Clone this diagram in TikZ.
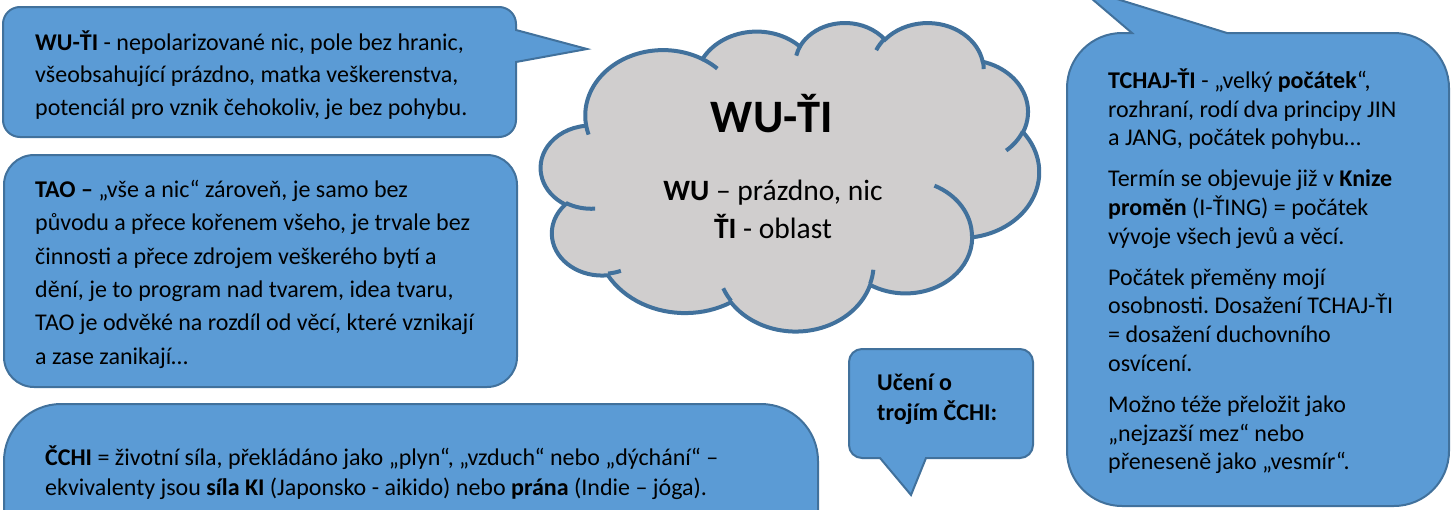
\documentclass[tikz,border=0pt]{standalone}
\usepackage{fontspec}
\setmainfont{Carlito}
\frenchspacing

\definecolor{bubblefill}{HTML}{5B9BD5}
\definecolor{bubbleline}{HTML}{41719C}
\definecolor{cloudfill}{HTML}{D0CECE}

\tikzstyle{bubble} = [draw=bubbleline, fill=bubblefill, line width=2pt]
\tikzstyle{cloudline} = [draw=bubbleline, line width=4pt]
\tikzstyle{textnode} = [anchor=north west, align=left, inner sep=0pt, font=\fontsize{24}{32.5}\selectfont]
\tikzstyle{taotext} = [textnode, font=\fontsize{24}{33.4}\selectfont]
\tikzstyle{chitext} = [textnode, font=\fontsize{24}{30}\selectfont]
\tikzstyle{tchajtext} = [textnode, font=\fontsize{24}{28.8}\selectfont]
\tikzstyle{cloudtext} = [anchor=base, inner sep=0pt, font=\fontsize{29.5}{38}\selectfont]

\newcommand{\firstline}{\rule{0pt}{24pt}}
\tikzset{
    lobe/.style args={#1/#2/#3/#4}{x radius=#1*1.1528pt, y radius=#2*0.7130pt,
        start angle={-atan2(sin(#3)/#2, cos(#3)/#1)},
        delta angle={-mod(atan2(sin(#3+#4)/#2, cos(#3+#4)/#1) - atan2(sin(#3)/#2, cos(#3)/#1) + 720, 360)}}
}

\begin{document}
\begin{tikzpicture}[x=1pt, y=-1pt]

    \useasboundingbox (0, 0) rectangle (1451, 509);
    \clip (0, 0) rectangle (1451, 509);

    \draw [bubble] (3, 60) [rounded corners=17pt] -- (3, 7) -- (516, 7) [sharp corners] -- (516, 30) -- (587, 49) -- (516, 62) [rounded corners=17pt] -- (516, 137) -- (3, 137) -- cycle;
    \draw [bubble, rounded corners=30pt] (4, 155) rectangle (517, 387);
    \draw [bubble, rounded corners=57pt] (4, 404) rectangle (818, 600);
    \draw [bubble] (849, 400) [rounded corners=13pt] -- (849, 349) -- (1033, 349) -- (1033, 458) [sharp corners] -- (926, 458) -- (911, 495) -- (880, 458) [rounded corners=13pt] -- (849, 458) -- cycle;
    \draw [bubble] (1067, 300) [rounded corners=55pt] -- (1067, 33) [sharp corners] -- (1132, 33) -- (1078, -13) -- (1227, 33) [rounded corners=55pt] -- (1449, 33) -- (1449, 506) -- (1067, 506) -- cycle;

    \begin{scope}[shift={(541, 22)}, x=1.1528pt, y=-0.7130pt]
        \draw [cloudline, fill=cloudfill] (39, 143.7)
            \foreach \lobe in {67.53/91.90/-190.4875/123.7805, 53.33/72.67/-144.1024/89.9452,
                43.65/59.45/-145.8079/99.7230, 48.57/65.95/-130.9861/117.2417,
                53.33/72.73/-78.7089/109.0269, 67.75/92.20/-46.2673/130.2690,
                57.85/78.67/0.6250/114.0333, 67.52/92.15/22.4516/115.1726,
                77.20/105.43/66.2426/75.7110, 43.60/59.18/-274.9421/146.7356,
                43.45/59.45/-246.8285/152.5189}
            { arc [lobe/.expanded=\lobe] }
            -- cycle;
        \draw [cloudline]
            \foreach \px/\py/\lobe in {46.93/261.77/{43.45/59.45/86.742/26.4295},
                69.28/348.99/{43.60/59.18/73.6105/11.4475}, 164.78/390.90/{67.52/92.15/137.6242/14.0811},
                288.27/347.51/{67.52/92.15/6.4533/15.9984}, 341.29/229.54/{57.85/78.67/-70.2924/70.9174},
                417.98/153.54/{53.33/72.73/30.3180/27.7515}, 383.24/54.26/{48.57/65.95/-13.7443/14.8589},
                290.78/39.52/{48.57/65.95/-149.1815/18.1954}, 221.41/47.20/{43.65/59.45/-163.4943/17.6864},
                140.00/51.92/{67.53/91.90/-66.7070/12.3194}, 41.27/157.89/{67.53/91.90/157.6544/11.8582}}
            { (\px, \py) arc [lobe/.expanded=\lobe] };
    \end{scope}

    \node (wutititle) [anchor=base, inner sep=0pt, font=\fontsize{46.5}{54}\selectfont\bfseries] at (772, 132) {WU-ŤI};
    \node (wutiwu) [cloudtext] at (773, 200) {\textbf{WU} – prázdno, nic};
    \node (wutiti) [cloudtext] at (773, 238) {\textbf{ŤI} - oblast};

    \node (wutibox) [textnode] at (35, 26) {\firstline\textbf{WU-ŤI} - nepolarizované nic, pole bez hranic,\\
        všeobsahující prázdno, matka veškerenstva,\\
        potenciál pro vznik čehokoliv, je bez pohybu.};

    \node (taobox) [taotext] at (35, 173) {\firstline\textbf{TAO –} „vše a nic“ zároveň, je samo bez\\
        původu a přece kořenem všeho, je trvale bez\\
        činnosti a přece zdrojem veškerého bytí a\\
        dění, je to program nad tvarem, idea tvaru,\\
        TAO je odvěké na rozdíl od věcí, které vznikají\\
        a zase zanikají…};

    \node (chibox) [chitext] at (45, 441) {\firstline\textbf{ČCHI} = životní síla, překládáno jako „plyn“, „vzduch“ nebo „dýchání“ –\\
        ekvivalenty jsou \textbf{síla KI} (Japonsko - aikido) nebo \textbf{prána} (Indie – jóga).};

    \node (ucenibox) [textnode, font=\fontsize{24}{30}\selectfont\bfseries] at (877, 366) {\firstline Učení o\\
        trojím ČCHI:};

    \node (tchajbox) [tchajtext] at (1108, 64) {\firstline\textbf{TCHAJ-ŤI} - „velký \textbf{počátek}“,\\
        rozhraní, rodí dva principy JIN\\
        a JANG, počátek pohybu…\\[12pt]
        Termín se objevuje již v \textbf{Knize}\\
        \textbf{proměn} (I-ŤING) = počátek\\
        vývoje všech jevů a věcí.\\[12pt]
        Počátek přeměny mojí\\
        osobnosti. Dosažení TCHAJ-ŤI\\
        = dosažení duchovního\\
        osvícení.\\[12pt]
        Možno téže přeložit jako\\
        „nejzazší mez“ nebo\\
        přeneseně jako „vesmír“.};

\end{tikzpicture}
\end{document}
